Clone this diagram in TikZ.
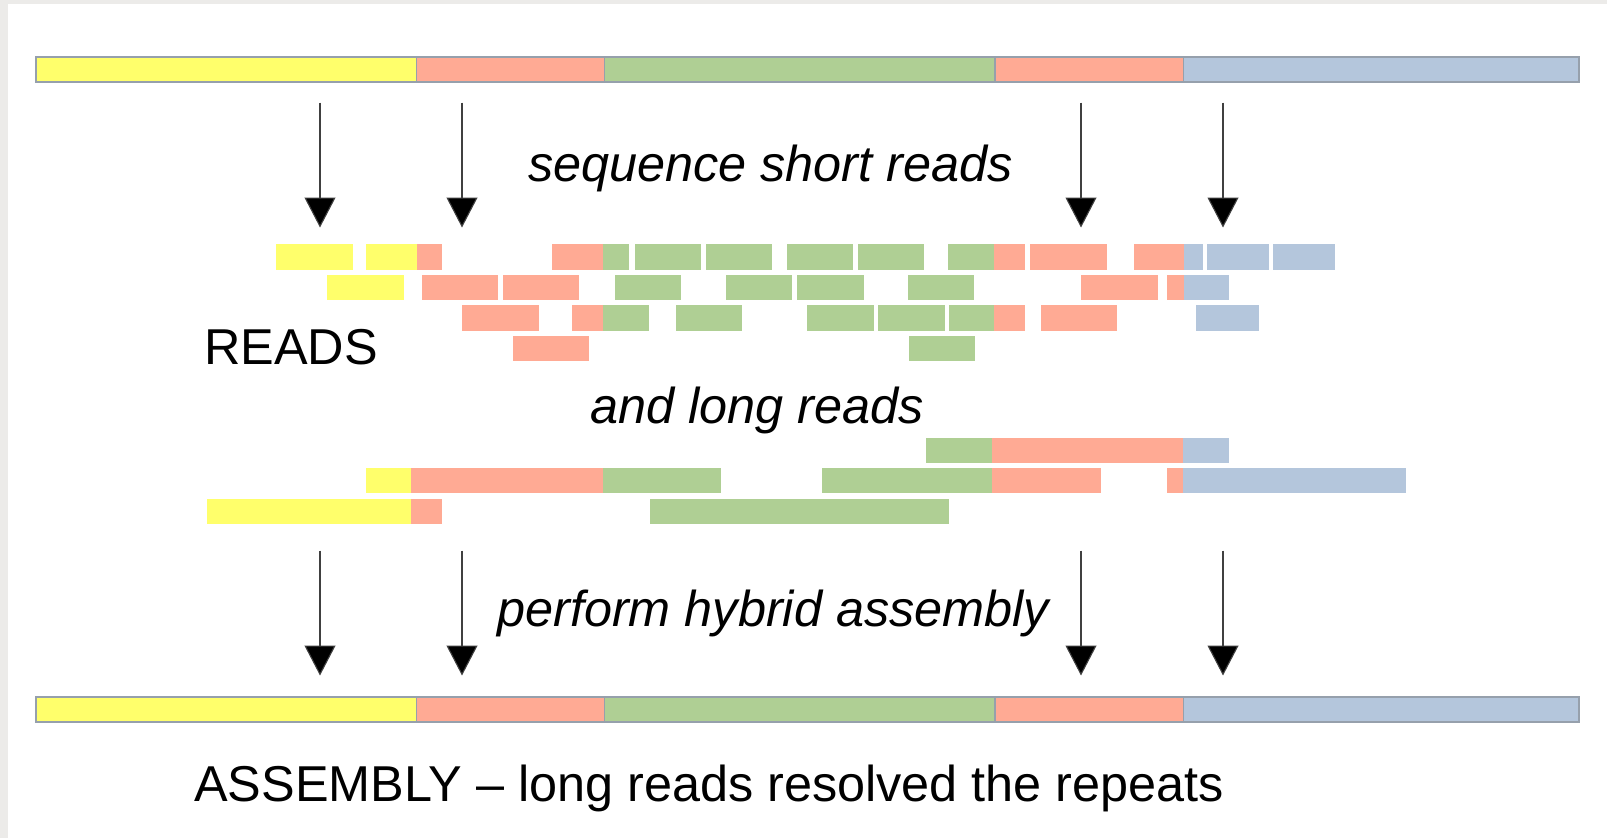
\documentclass[tikz,border=0pt]{standalone}
\usepackage{fontspec}
\setmainfont{Liberation Sans}
\usetikzlibrary{arrows.meta}
\definecolor{ylw}{RGB}{255,255,107}
\definecolor{slm}{RGB}{255,170,148}
\definecolor{grn}{RGB}{175,207,148}
\definecolor{blu}{RGB}{180,198,220}
\definecolor{framegray}{RGB}{236,235,233}
\definecolor{edgegray}{RGB}{150,160,172}
\tikzset{
  seg/.style={fill=#1, draw=edgegray, line width=1.4pt},
  rd/.style={fill=#1},
  label/.style={inner sep=0pt, anchor=base west, font=\fontsize{50.4}{60}\selectfont},
  step label/.style={label, font=\fontsize{50.4}{60}\selectfont\itshape},
  down/.style={draw=black!75, line width=1.1pt, -{Triangle[width=31pt,length=30pt,fill=black]}}
}
\begin{document}
\begin{tikzpicture}[x=1pt,y=-1pt]
\useasboundingbox (0,0) rectangle (1607,838);
\fill[white] (0,0) rectangle (1607,838);
% window edge
\fill[framegray] (0,0) rectangle (1607,4);
\fill[framegray] (0,0) rectangle (8,838);

% genome (top) and assembly (bottom)
\foreach \ya/\yb in {57/82, 697/722} {
  \foreach \xa/\xb/\c in {36/416.5/ylw, 416.5/604.5/slm, 604.5/995/grn, 995/1183.5/slm, 1183.5/1579/blu}
    \path[seg=\c] (\xa,\ya) rectangle (\xb,\yb);
}

% short reads, row 1
\foreach \xa/\xb/\c in {276/353/ylw, 366/416.5/ylw, 416.5/442/slm, 552/603/slm, 603/629/grn,
  634.5/700.5/grn, 705.5/771.5/grn, 786.5/853/grn, 858/924/grn, 948/993.5/grn, 993.5/1025/slm,
  1030/1106.5/slm, 1133.5/1183.5/slm, 1183.5/1203/blu, 1206.5/1269/blu, 1272.5/1335/blu}
  \path[rd=\c] (\xa,244) rectangle (\xb,270);
% row 2
\foreach \xa/\xb/\c in {327/403.5/ylw, 421.5/497.5/slm, 502.5/579/slm, 614.5/680.5/grn,
  726/792/grn, 797/863.5/grn, 907.5/973.5/grn, 1081/1157.5/slm, 1167/1183.5/slm, 1183.5/1228.5/blu}
  \path[rd=\c] (\xa,274.5) rectangle (\xb,300);
% row 3
\foreach \xa/\xb/\c in {461.5/538.5/slm, 572/603/slm, 603/648.5/grn, 675.5/741.5/grn,
  807/873.5/grn, 878/944.5/grn, 949/993.5/grn, 993.5/1025/slm, 1040.5/1117/slm, 1196/1259/blu}
  \path[rd=\c] (\xa,305) rectangle (\xb,330.5);
% row 4
\foreach \xa/\xb/\c in {512.5/589/slm, 908.5/974.5/grn}
  \path[rd=\c] (\xa,335.5) rectangle (\xb,361);

% long reads
\foreach \xa/\xb/\c in {926/992/grn, 992/1182.5/slm, 1182.5/1228.5/blu}
  \path[rd=\c] (\xa,437.5) rectangle (\xb,462.5);
\foreach \xa/\xb/\c in {365.5/411/ylw, 411/603/slm, 603/721/grn, 822/992/grn, 992/1100.5/slm,
  1166.5/1183/slm, 1183/1406/blu}
  \path[rd=\c] (\xa,467.5) rectangle (\xb,493);
\foreach \xa/\xb/\c in {206.5/411/ylw, 411/442/slm, 649.5/949/grn}
  \path[rd=\c] (\xa,498.5) rectangle (\xb,524);

% arrows
\foreach \i/\x in {1/320, 2/462, 3/1081, 4/1223} {
  \coordinate (ts\i) at (\x,102.5);
  \coordinate (te\i) at (\x,227.5);
  \coordinate (bs\i) at (\x,550.5);
  \coordinate (be\i) at (\x,675.5);
  \draw[down] (ts\i) -- (te\i);
  \draw[down] (bs\i) -- (be\i);
}

% texts
\node[step label] (t1) at (528,181.5) {sequence short reads};
\node[label] (t2) at (204,364) {READS};
\node[step label] (t3) at (590,423.5) {and long reads};
\node[step label] (t4) at (497,626.5) {perform hybrid assembly};
\node[label] (t5) at (194,801) {ASSEMBLY – long reads resolved the repeats};
\end{tikzpicture}
\end{document}
